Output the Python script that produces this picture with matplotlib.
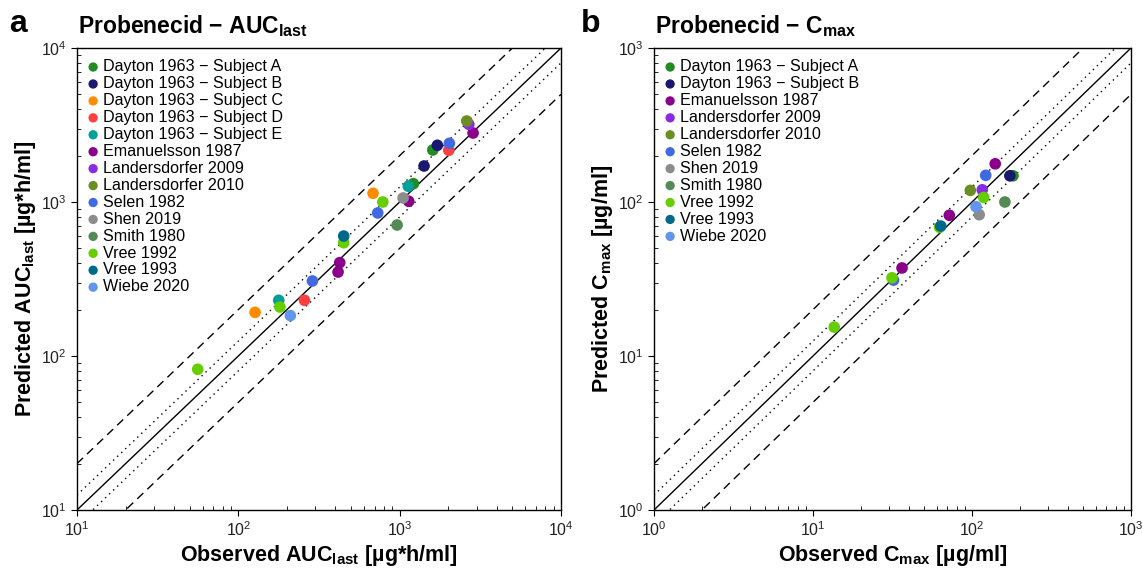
import matplotlib
matplotlib.use("Agg")
import matplotlib.pyplot as plt
import numpy as np

plt.rcParams['font.family'] = ['Liberation Sans', 'DejaVu Sans']
plt.rcParams['mathtext.fontset'] = 'custom'
plt.rcParams['mathtext.rm'] = 'Liberation Sans'
plt.rcParams['mathtext.it'] = 'Liberation Sans:italic'
plt.rcParams['mathtext.bf'] = 'Liberation Sans:bold'

# ---- studies and colours ----
studies = ["Dayton 1963 \u2212 Subject A", "Dayton 1963 \u2212 Subject B",
           "Dayton 1963 \u2212 Subject C", "Dayton 1963 \u2212 Subject D",
           "Dayton 1963 \u2212 Subject E", "Emanuelsson 1987",
           "Landersdorfer 2009", "Landersdorfer 2010", "Selen 1982",
           "Shen 2019", "Smith 1980", "Vree 1992", "Vree 1993", "Wiebe 2020"]
colors = ["#228B22", "#191970", "#FF8C00", "#FF4040", "#00A09A", "#8B008B",
          "#8A2BE2", "#6B8E23", "#4169E1", "#8C8C8C", "#548B54", "#66CD00",
          "#00688B", "#6495ED"]

# ---- panel a: AUClast [ug*h/ml] ----
auc_study = ["Dayton 1963 \u2212 Subject A"] * 2 + ["Dayton 1963 \u2212 Subject B"] * 2 + \
            ["Dayton 1963 \u2212 Subject C"] * 2 + ["Dayton 1963 \u2212 Subject D"] * 2 + \
            ["Dayton 1963 \u2212 Subject E"] * 2 + ["Emanuelsson 1987"] * 4 + \
            ["Landersdorfer 2009", "Landersdorfer 2010"] + ["Selen 1982"] * 3 + \
            ["Shen 2019", "Smith 1980"] + ["Vree 1992"] * 4 + ["Vree 1993", "Wiebe 2020"]
auc_obs = [1604, 1216, 1713, 1416, 684, 127, 2015, 257, 1132, 178,
           2851, 1138, 425, 415, 2682, 2606, 2033, 731, 288,
           1050, 964, 786, 450, 181, 56, 450, 210]
auc_pred = [2176, 1315, 2335, 1713, 1139, 192, 2166, 230, 1265, 230,
            2806, 1011, 404, 351, 3195, 3357, 2405, 849, 307,
            1062, 709, 1000, 544, 208, 82, 601, 183]

# ---- panel b: Cmax [ug/ml] ----
cmax_study = ["Dayton 1963 \u2212 Subject A", "Dayton 1963 \u2212 Subject B"] + \
             ["Emanuelsson 1987"] * 3 + ["Landersdorfer 2009", "Landersdorfer 2010"] + \
             ["Selen 1982"] * 2 + ["Shen 2019", "Smith 1980"] + ["Vree 1992"] * 4 + \
             ["Vree 1993", "Wiebe 2020"]
cmax_obs = [181, 173, 140, 72, 36.3, 116, 97.6, 122, 32.1, 111, 161,
            118.5, 31.4, 13.6, 62.5, 63.6, 106]
cmax_pred = [148, 148, 177, 82, 37.3, 120, 119, 149, 31.1, 82.7, 100,
             107, 32.2, 15.4, 68.5, 69.8, 93.2]

fig = plt.figure(figsize=(11.43, 5.68), dpi=100)
axA = fig.add_axes([77 / 1143, 1 - 510 / 568, 484 / 1143, 462 / 568])
axB = fig.add_axes([654 / 1143, 1 - 510 / 568, 477 / 1143, 462 / 568])


def draw(ax, lo, hi, st, obs, pred, title, xlabel, ylabel):
    xx = np.array([lo, hi])
    ax.plot(xx, xx, color="black", lw=1.0, zorder=1)
    for f in (1.25, 1 / 1.25):
        ax.plot(xx, xx * f, color="black", lw=1.0, ls=(0, (1, 3)), zorder=1)
    for f in (2, 0.5):
        ax.plot(xx, xx * f, color="black", lw=1.0, ls=(0, (6, 4)), zorder=1)
    present = [s for s in studies if s in st]
    for s in present:
        c = colors[studies.index(s)]
        ox = [o for o, t in zip(obs, st) if t == s]
        oy = [p for p, t in zip(pred, st) if t == s]
        ax.scatter(ox, oy, s=70, color=c, edgecolors="none", zorder=3, label=s)
    ax.set_xscale("log")
    ax.set_yscale("log")
    ax.set_xlim(lo, hi)
    ax.set_ylim(lo, hi)
    ax.tick_params(which="major", direction="out", length=4, labelsize=11.5,
                   labelcolor="#222222")
    ax.tick_params(which="minor", direction="in", length=3)
    for sp in ax.spines.values():
        sp.set_linewidth(1.0)
    ax.set_xlabel(xlabel, fontsize=15.5, fontweight="bold", labelpad=3)
    ax.set_ylabel(ylabel, fontsize=15.5, fontweight="bold", labelpad=2)
    ax.legend(loc="upper left", frameon=False, fontsize=11.6, handlelength=0.6,
              handletextpad=0.3, labelspacing=0.12, borderaxespad=0.5,
              borderpad=0.2, markerscale=0.8)
    ax.text(0.003, 1.02, title, transform=ax.transAxes, fontsize=16.5,
            fontweight="bold", ha="left", va="bottom")
    return ax


draw(axA, 10, 1e4, auc_study, auc_obs, auc_pred,
     r"Probenecid $\mathbf{-}$ AUC$_{\mathbf{last}}$",
     r"Observed AUC$_{\mathbf{last}}$ [µg*h/ml]",
     r"Predicted AUC$_{\mathbf{last}}$ [µg*h/ml]")
draw(axB, 1, 1e3, cmax_study, cmax_obs, cmax_pred,
     r"Probenecid $\mathbf{-}$ C$_{\mathbf{max}}$",
     r"Observed C$_{\mathbf{max}}$ [µg/ml]",
     r"Predicted C$_{\mathbf{max}}$ [µg/ml]")

fig.text(9 / 1143, 1 - 24 / 568, "a", fontsize=23, fontweight="bold", va="center")
fig.text(581 / 1143, 1 - 24 / 568, "b", fontsize=23, fontweight="bold", va="center")

fig.savefig("out.png", dpi=100)
